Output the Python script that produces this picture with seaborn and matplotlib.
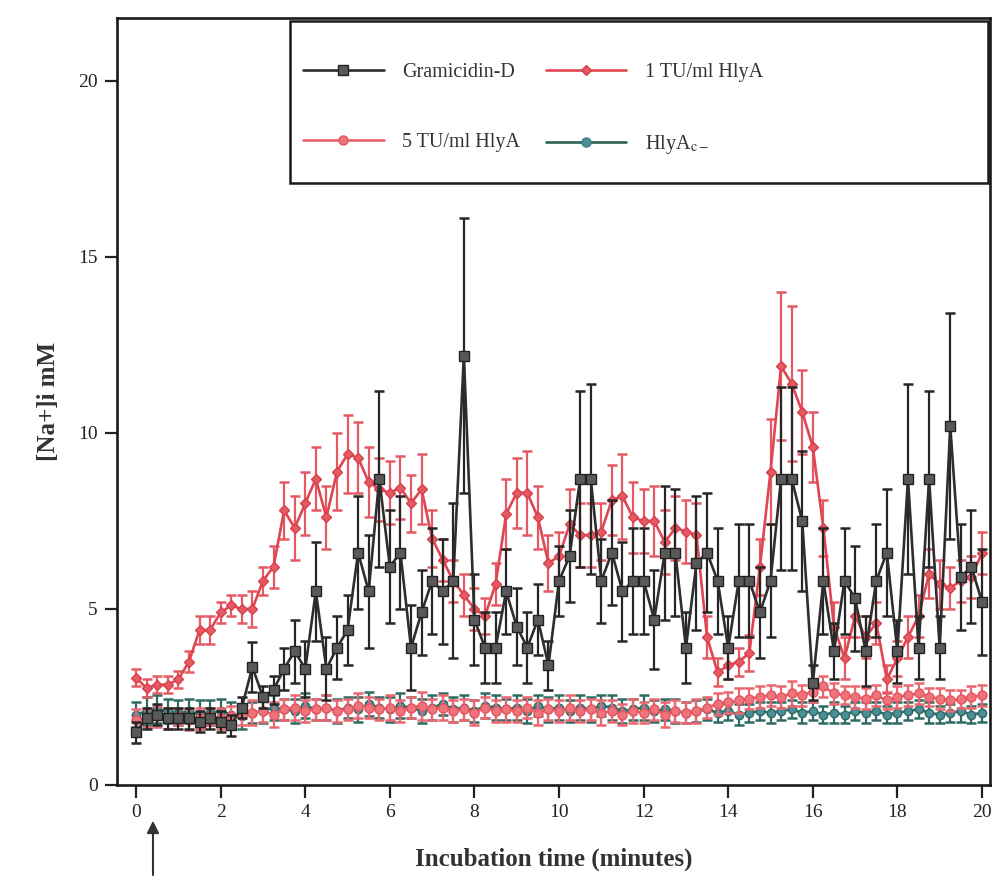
import numpy as np
import pandas as pd
import matplotlib
matplotlib.use("Agg")
import matplotlib.pyplot as plt
import matplotlib.patches as mpatches
from matplotlib.lines import Line2D
import seaborn as sns

# sampling grid (minutes), one reading every 15 s
time_min = np.linspace(0, 20, 81)

gramicidin = [
    1.5, 1.9, 2.0, 1.9, 1.9, 1.9, 1.8, 1.9, 1.8, 1.7, 2.2,
    3.35, 2.5, 2.7, 3.3, 3.8, 3.3, 5.5, 3.3, 3.9,
    4.4, 6.6, 5.5, 8.7, 6.2, 6.6, 3.9, 4.9, 5.8, 5.5, 5.8,
    12.2, 4.7, 3.9, 3.9, 5.5, 4.5, 3.9, 4.7, 3.4,
    5.8, 6.5, 8.7, 8.7, 5.8, 6.6, 5.5, 5.8, 5.8, 4.7, 6.6, 6.6,
    3.9, 6.3, 6.6, 5.8, 3.9, 5.8, 5.8, 4.9, 5.8, 8.7, 8.7, 7.5,
    2.9, 5.8, 3.8, 5.8, 5.3, 3.8, 5.8, 6.6, 3.8, 8.7, 3.9, 8.7,
    3.9, 10.2, 5.9, 6.2, 5.2,
]
gramicidin_err = [
    0.3, 0.3, 0.3, 0.3, 0.3, 0.3, 0.3, 0.3, 0.3, 0.3, 0.3,
    0.7, 0.3, 0.4, 0.6, 0.9, 0.8, 1.4, 0.9, 0.9,
    1.0, 1.6, 1.6, 2.5, 1.6, 1.6, 1.2, 1.2, 1.5, 1.5, 2.2,
    3.9, 1.3, 1.0, 1.0, 1.2, 1.1, 1.0, 1.0, 0.7,
    1.0, 1.3, 2.5, 2.7, 1.2, 1.5, 1.4, 1.5, 1.5, 1.4, 1.9, 1.8,
    1.0, 1.9, 1.7, 1.5, 0.9, 1.6, 1.6, 1.3, 1.6, 2.6, 2.6, 2.0,
    0.5, 1.5, 0.8, 1.5, 1.5, 1.0, 1.6, 1.8, 0.9, 2.7, 0.9, 2.5,
    0.9, 3.2, 1.5, 1.6, 1.5,
]

hlya_1tu = [
    3.05, 2.75, 2.85, 2.85, 3.0, 3.5, 4.4, 4.4, 4.9, 5.1, 5.0,
    5.0, 5.8, 6.2, 7.8, 7.3, 8.0, 8.7, 7.6, 8.9,
    9.4, 9.3, 8.6, 8.4, 8.3, 8.45, 8.0, 8.4, 7.0, 6.4, 5.8,
    5.4, 5.0, 4.8, 5.7, 7.7, 8.3, 8.3, 7.6, 6.3,
    6.5, 7.4, 7.1, 7.1, 7.2, 8.1, 8.2, 7.6, 7.5, 7.5, 6.9, 7.3,
    7.2, 7.1, 4.2, 3.2, 3.4, 3.5, 3.75, 6.2, 8.9, 11.9, 11.4, 10.6,
    9.6, 7.3, 4.5, 3.6, 4.8, 4.2, 4.6, 3.0, 3.6, 4.2, 4.8, 6.0,
    5.7, 5.6, 5.8, 5.9, 6.6,
]
hlya_1tu_err = [
    0.25, 0.25, 0.25, 0.25, 0.25, 0.3, 0.4, 0.4, 0.3, 0.3, 0.4,
    0.5, 0.4, 0.6, 0.8, 0.9, 0.9, 0.9, 0.9, 1.1,
    1.1, 1.0, 1.0, 0.9, 0.9, 0.9, 0.8, 1.0, 0.8, 0.6, 0.6,
    0.6, 0.6, 0.5, 0.6, 1.0, 1.0, 1.2, 0.9, 0.8,
    0.7, 1.0, 0.9, 0.9, 0.8, 1.0, 1.2, 1.0, 0.9, 1.0, 0.9, 0.9,
    0.9, 0.9, 0.6, 0.4, 0.4, 0.4, 0.5, 0.8, 1.5, 2.1, 2.2, 1.2,
    1.0, 0.8, 0.7, 0.6, 0.6, 0.6, 0.6, 0.4, 0.5, 0.6, 0.6, 0.7,
    0.7, 0.6, 0.6, 0.6, 0.6,
]

hlya_5tu = [
    1.85, 1.9, 1.95, 1.9, 1.95, 1.85, 1.9, 1.95, 1.9, 1.95, 2.0,
    2.05, 2.1, 2.0, 2.15, 2.2, 2.1, 2.15, 2.2, 2.1, 2.15, 2.25,
    2.2, 2.15, 2.2, 2.1, 2.2, 2.25, 2.15, 2.2, 2.1, 2.15, 2.05,
    2.2, 2.1, 2.15, 2.1, 2.2, 2.05, 2.15, 2.1, 2.2, 2.1, 2.15,
    2.05, 2.1, 2.0, 2.1, 2.05, 2.15, 2.0, 2.1, 2.05, 2.1, 2.2,
    2.3, 2.35, 2.4, 2.45, 2.5, 2.55, 2.5, 2.6, 2.55, 2.65, 2.8,
    2.6, 2.55, 2.5, 2.45, 2.55, 2.4, 2.5, 2.55, 2.6, 2.5, 2.45,
    2.4, 2.45, 2.5, 2.55,
]
hlya_5tu_err = [
    0.3, 0.25, 0.3, 0.3, 0.25, 0.3, 0.3, 0.25, 0.3, 0.3, 0.3,
    0.35, 0.3, 0.35, 0.3, 0.35, 0.3, 0.3, 0.35, 0.3, 0.3, 0.35,
    0.3, 0.3, 0.35, 0.3, 0.3, 0.4, 0.3, 0.35, 0.3, 0.3, 0.35,
    0.3, 0.3, 0.35, 0.3, 0.3, 0.35, 0.3, 0.3, 0.35, 0.3, 0.3,
    0.35, 0.3, 0.3, 0.35, 0.3, 0.3, 0.35, 0.3, 0.3, 0.35, 0.3,
    0.3, 0.3, 0.35, 0.3, 0.3, 0.3, 0.3, 0.35, 0.3, 0.3, 0.3,
    0.3, 0.25, 0.3, 0.3, 0.3, 0.25, 0.3, 0.3, 0.3, 0.25, 0.3,
    0.3, 0.25, 0.3, 0.3,
]

hlya_c = [
    2.0, 2.1, 2.15, 2.1, 2.05, 2.1, 2.0, 2.05, 2.1, 2.0, 1.95,
    2.05, 2.1, 2.2, 2.15, 2.1, 2.25, 2.15, 2.2, 2.1, 2.2, 2.15,
    2.3, 2.2, 2.15, 2.25, 2.2, 2.1, 2.2, 2.3, 2.15, 2.2, 2.1,
    2.25, 2.2, 2.15, 2.2, 2.1, 2.25, 2.15, 2.2, 2.1, 2.2, 2.15,
    2.25, 2.2, 2.1, 2.15, 2.2, 2.1, 2.15, 2.1, 2.05, 2.1, 2.15,
    2.05, 2.1, 2.0, 2.05, 2.1, 2.05, 2.1, 2.15, 2.05, 2.1, 2.0,
    2.05, 2.0, 2.1, 2.05, 2.1, 2.0, 2.05, 2.1, 2.15, 2.05, 2.0,
    2.05, 2.1, 2.0, 2.05,
]
hlya_c_err = [
    0.35, 0.4, 0.4, 0.35, 0.35, 0.35, 0.4, 0.35, 0.35, 0.35, 0.35,
    0.3, 0.35, 0.35, 0.3, 0.35, 0.35, 0.3, 0.35, 0.35, 0.3, 0.35,
    0.35, 0.3, 0.35, 0.35, 0.3, 0.35, 0.35, 0.3, 0.35, 0.35, 0.3,
    0.35, 0.35, 0.3, 0.35, 0.35, 0.3, 0.35, 0.35, 0.3, 0.35, 0.35,
    0.3, 0.35, 0.35, 0.3, 0.35, 0.3, 0.3, 0.35, 0.3, 0.3, 0.3,
    0.25, 0.25, 0.3, 0.25, 0.25, 0.3, 0.25, 0.25, 0.3, 0.25, 0.25,
    0.3, 0.25, 0.25, 0.3, 0.25, 0.25, 0.3, 0.25, 0.25, 0.3, 0.25,
    0.25, 0.3, 0.25, 0.25,
]

labels = ["Gramicidin-D", "1 TU/ml HlyA", "5 TU/ml HlyA", r"HlyA$_{\mathrm{c-}}$"]
x_ticks = [0, 2, 4, 6, 8, 10, 12, 14, 16, 18, 20]
y_ticks = [0, 5, 10, 15, 20]

sns.set_theme(style="ticks")
plt.rcParams["font.family"] = ["Liberation Serif", "DejaVu Serif"]
plt.rcParams["mathtext.fontset"] = "stix"

# series: (values, errors, line color, marker, marker face, marker edge, ms, err color, zorder)
series = [
    (hlya_c, hlya_c_err, "#2f6b62", "o", "#4d8f98", "#2f6b62", 6, "#2f6b62", 2),
    (hlya_5tu, hlya_5tu_err, "#ea5f68", "o", "#ee737b", "#e55560", 6.5, "#ea6670", 3),
    (hlya_1tu, hlya_1tu_err, "#e04652", "D", "#e35a63", "#d9404c", 5, "#e45a64", 4),
    (gramicidin, gramicidin_err, "#2e2e2e", "s", "#595959", "#222222", 7.5, "#262626", 5),
]

fig = plt.figure(figsize=(9.96, 8.81), dpi=100)
ax = fig.add_axes([0.1175, 0.109, 0.8765, 0.871])

for vals, errs, lc, mk, mfc, mec, ms, ec, z in series:
    ax.errorbar(time_min, vals, yerr=errs, fmt="none", ecolor=ec,
                elinewidth=1.6, capsize=3.5, capthick=1.8, zorder=z)
    sns.lineplot(x=time_min, y=vals, ax=ax, color=lc, linewidth=1.9,
                 marker=mk, markersize=ms, markerfacecolor=mfc,
                 markeredgecolor=mec, markeredgewidth=1.0,
                 estimator=None, sort=False, zorder=z + 0.5)

ax.set_xlim(-0.45, 20.19)
ax.set_ylim(0, 21.8)
ax.set_xticks(x_ticks)
ax.set_yticks(y_ticks)
ax.tick_params(axis="both", labelsize=14, length=9, width=1.6,
               direction="out", color="#222222", labelcolor="#222222", pad=5)
for sp in ax.spines.values():
    sp.set_linewidth(1.9)
    sp.set_color("#1a1a1a")

ax.set_xlabel("Incubation time (minutes)", fontsize=18, fontweight="bold",
              color="#333333", labelpad=19)
ax.set_ylabel("[Na+]i mM", fontsize=18, fontweight="bold",
              color="#333333", labelpad=13)

# legend: frameless entries inside a hand-drawn box
handles = [
    Line2D([], [], color="#2e2e2e", lw=1.9, marker="s", ms=7.5,
           mfc="#595959", mec="#222222"),
    Line2D([], [], color="#ea5f68", lw=1.9, marker="o", ms=6.5,
           mfc="#ee737b", mec="#e55560"),
    Line2D([], [], color="#e04652", lw=1.9, marker="D", ms=5,
           mfc="#e35a63", mec="#d9404c"),
    Line2D([], [], color="#2f5f55", lw=1.9, marker="o", ms=6.5,
           mfc="#4d8f98", mec="#3d7f86"),
]
leg_labels = [labels[0], labels[2], labels[1], labels[3]]
ax.legend(handles, leg_labels, ncol=2, loc="upper left",
          bbox_to_anchor=(0.213, 0.941), frameon=False, fontsize=14.5,
          handlelength=4.0, handletextpad=0.9, columnspacing=1.3,
          labelspacing=2.55, borderpad=0, borderaxespad=0,
          labelcolor="#333333")
ax.add_patch(mpatches.Rectangle((0.198, 0.785), 0.8, 0.21,
                                transform=ax.transAxes, fill=False,
                                edgecolor="#1a1a1a", linewidth=1.8,
                                zorder=10, clip_on=False))

# arrow marking toxin addition
ax.annotate("", xy=(0.4, -0.043), xytext=(0.4, -0.121),
            xycoords=("data", "axes fraction"),
            textcoords=("data", "axes fraction"),
            arrowprops=dict(arrowstyle="-|>", color="#333333", lw=1.5,
                            mutation_scale=18),
            annotation_clip=False)

fig.savefig("out.png", dpi=100)
plt.close(fig)
